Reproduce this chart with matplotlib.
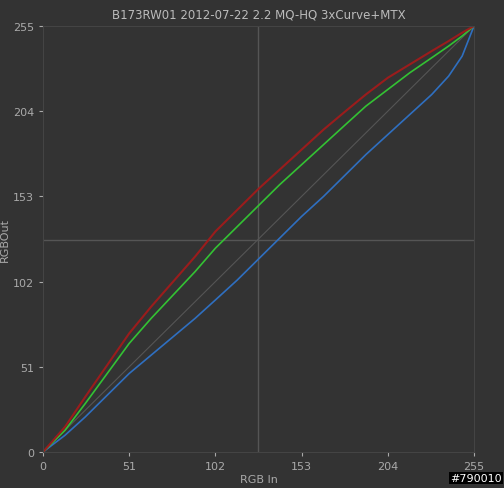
import matplotlib
matplotlib.use("Agg")
import matplotlib.pyplot as plt
import numpy as np

x_in = [0, 13, 25, 38, 51, 64, 77, 90, 102, 115, 128, 140, 153, 166, 179, 191, 204, 217, 230, 240, 248, 255]
red_out = [0, 15, 33, 52, 71, 87, 102, 117, 132, 145, 158, 169, 181, 193, 204, 214, 224, 232, 240, 246, 251, 255]
green_out = [0, 13, 29, 47, 65, 80, 94, 108, 122, 135, 148, 160, 172, 184, 196, 207, 217, 227, 236, 243, 249, 255]
blue_out = [0, 10, 21, 34, 47, 58, 69, 80, 91, 103, 116, 128, 141, 153, 166, 178, 190, 202, 214, 225, 237, 255]
ticks = [0, 51, 102, 153, 204, 255]

bg = '#333333'
fig = plt.figure(figsize=(5.04, 4.89), dpi=100, facecolor=bg)
ax = fig.add_axes([43/504, 36/489, 431/504, 426/489], facecolor=bg)

ax.plot([0, 255], [0, 255], color='#555555', lw=0.8)
ax.axvline(127, color='#555555', lw=1)
ax.axhline(127, color='#555555', lw=1)
ax.plot(x_in, blue_out, color='#2f6fc0', lw=1.2)
ax.plot(x_in, green_out, color='#33c233', lw=1.2)
ax.plot(x_in, red_out, color='#9b1c1c', lw=1.5)

ax.set_xlim(0, 255)
ax.set_ylim(0, 255)
ax.set_xticks(ticks)
ax.set_yticks(ticks)
ax.tick_params(colors='#aaaaaa', labelsize=8, length=3)
for s in ax.spines.values():
    s.set_color('#444444')
ax.set_xlabel('RGB In', color='#aaaaaa', fontsize=8, labelpad=2)
ax.set_ylabel('RGBOut', color='#aaaaaa', fontsize=8, labelpad=2)
ax.set_title('B173RW01 2012-07-22 2.2 MQ-HQ 3xCurve+MTX', color='#bbbbbb', fontsize=8.5, pad=6)

fig.text(0.995, 0.01, '#790010', color='white', fontsize=8, ha='right', va='bottom',
         bbox=dict(facecolor='black', edgecolor='none', pad=1))

fig.savefig('out.png', dpi=100, facecolor=bg)
